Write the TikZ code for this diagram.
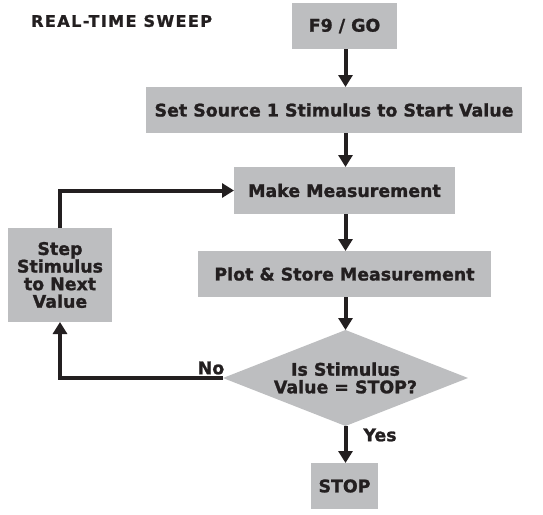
\documentclass[tikz,border=0pt]{standalone}
\usepackage{fontspec}
\setmainfont{DejaVu Sans}[BoldFeatures={FakeBold=1.3}]
\usepackage{tikz}
\usetikzlibrary{shapes.geometric}
\usetikzlibrary{arrows.meta}
\definecolor{boxgray}{RGB}{189,190,192}
\definecolor{ink}{RGB}{35,31,32}
\tikzset{
box/.style={
  rectangle,
  fill=boxgray,
  text=ink,
  font=\bfseries\fontsize{17.4}{17.6}\selectfont,
  align=center,
  inner sep=0pt,
  outer sep=0pt,
  minimum height=46pt
},
decision/.style={
  box,
  diamond,
  aspect=2.55,
  minimum width=245pt,
  minimum height=96pt
},
flow/.style={
  draw=ink,
  line width=4pt,
  -{Triangle[width=14pt,length=12pt]}
},
answer/.style={
  text=ink,
  inner sep=0pt,
  font=\bfseries\fontsize{17.4}{17.6}\selectfont
},
%heading/.style={font=\bfseries\fontsize{17}{17}\selectfont},
}

\begin{document}
\begin{tikzpicture}[x=1pt,y=-1pt]
\useasboundingbox (0,0) rectangle (543,514);
% the title
\node[answer, anchor=west, font=\bfseries\fontsize{16}{16}\selectfont\addfontfeature{LetterSpace=9}] (title) at (31,21) {REAL-TIME SWEEP};
% the boxes
\node[box, minimum width=105pt] (go) at (344.5,26) {F9 / GO};
\node[box, minimum width=376pt] (src) at (334,110) {Set Source 1 Stimulus to Start Value};
\node[box, minimum width=221pt, minimum height=47pt] (meas) at (344.5,190.5) {Make Measurement};
\node[box, minimum width=293pt] (plot) at (344.5,274) {Plot \& Store Measurement};
\node[decision] (test) at (345.5,378) {Is Stimulus\\Value = STOP?};
\node[box, minimum width=67pt] (stop) at (344.5,486) {STOP};
\node[box, minimum width=104pt, minimum height=94pt] (next) at (60,275) {Step\\Stimulus\\to Next\\Value};
% the arrows
\foreach \a/\b in {go/src,src/meas,meas/plot,plot/test,test/stop}
{
  \draw[flow] (\a.south -| test) -- (\b.north -| test);
}
\draw[flow] (test.west) -| (next.south);
\draw[flow] (next.north) |- (meas.west);
% the answers
\node[answer] (no) at (211,368) {No};
\node[answer] (yes) at (380,435) {Yes};
\end{tikzpicture}
\end{document}
